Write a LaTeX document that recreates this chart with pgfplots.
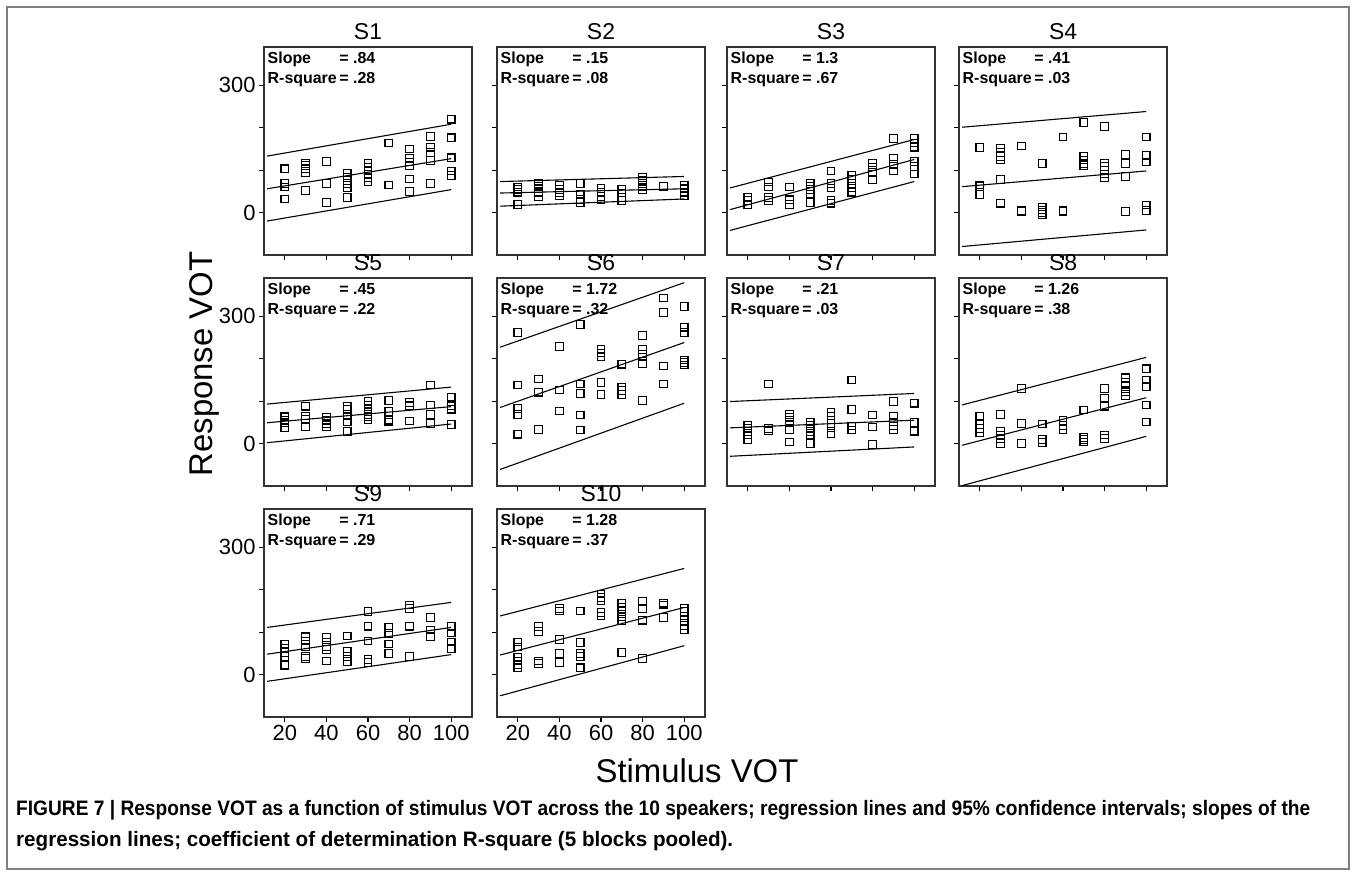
\documentclass[border=0pt]{standalone}
\usepackage{pgfplots}
\pgfplotsset{compat=1.18}
\usepackage{fontspec}
\setmainfont{Liberation Sans}
\usepackage{graphicx}

\pgfplotsset{
 pan/.style={scale only axis, width=208bp, height=208bp, anchor=north west,
  xmin=10,xmax=110,ymin=-100,ymax=390,
  xtick={20,40,60,80,100}, ytick={0,100,200,300},
  xticklabels={,,,,}, yticklabels={,,,},
  tick align=outside, xtick pos=bottom, ytick pos=left,
  major tick length=5bp,
  every tick/.style={black, line width=1.2bp},
  axis line style={black!80, line width=1.3bp},
  ticklabel style={font=\fontsize{22}{22}\selectfont},
  title style={font=\fontsize{23}{23}\selectfont, at={(0.5,1)}, anchor=south, inner sep=1.5bp},
 },
 pts/.style={only marks, mark=square, mark size=3.8bp, mark options={line width=1.1bp, draw=black, fill=none}},
 rl/.style={black, line width=1.1bp, mark=none},
}
\newcommand{\stat}[2]{\node[anchor=north west, inner sep=0pt, font=\bfseries\fontsize{16}{20}\selectfont] at ([xshift=3.5bp,yshift=-2bp]rel axis cs:0,1) {\begin{tabular}{@{}l@{}l@{}}Slope&\,= #1\\R-square&\,= #2\end{tabular}};}

\begin{document}
\begin{tikzpicture}
\path[use as bounding box] (0,0) rectangle (1356bp,-876bp);
\draw[black!50, line width=1.5bp] (7bp,-7bp) rectangle (1349bp,-869bp);

% S1
\begin{axis}[pan, at={(264bp,-47bp)}, title={S1}, yticklabels={0,,,300}]
\addplot[pts] coordinates {(20,103)(20,68)(20,60)(20,32)
(30,116)(30,111)(30,103)(30,93)(30,52)
(40,120)(40,69)(40,24)
(50,93)(50,83)(50,76)(50,69)(50,58)(50,36)
(60,115)(60,107)(60,99)(60,91)(60,83)(60,72)
(70,164)(70,65)
(80,150)(80,127)(80,119)(80,111)(80,79)(80,50)
(90,179)(90,154)(90,142)(90,123)(90,69)
(100,220)(100,176)(100,129)(100,98)(100,87)};
\addplot[rl] coordinates {(11.5,56)(100,127)};
\addplot[rl] coordinates {(11.5,133)(100,208)};
\addplot[rl] coordinates {(11.5,-20)(100,54)};
\stat{.84}{.28}
\end{axis}

% S2
\begin{axis}[pan, at={(497bp,-47bp)}, title={S2}]
\addplot[pts] coordinates {(20,60)(20,54)(20,48)(20,19)
(30,69)(30,62)(30,56)(30,48)(30,38)
(40,65)(40,54)(40,46)(40,40)
(50,68)(50,44)(50,31)(50,24)
(60,57)(60,48)(60,38)(60,31)
(70,54)(70,46)(70,36)(70,28)
(80,83)(80,76)(80,68)(80,60)(80,54)
(90,62)
(100,64)(100,56)(100,48)(100,40)};
\addplot[rl] coordinates {(11.5,46)(100,56)};
\addplot[rl] coordinates {(11.5,73)(100,85)};
\addplot[rl] coordinates {(11.5,15)(100,32)};
\stat{.15}{.08}
\end{axis}

% S3
\begin{axis}[pan, at={(727bp,-47bp)}, title={S3}]
\addplot[pts] coordinates {(20,36)(20,28)(20,19)
(30,72)(30,60)(30,36)(30,28)
(40,60)(40,30)(40,19)
(50,68)(50,61)(50,54)(50,44)(50,24)
(60,98)(60,68)(60,58)(60,28)(60,22)
(70,87)(70,79)(70,68)(70,58)(70,48)
(80,117)(80,107)(80,95)(80,78)
(90,175)(90,127)(90,113)(90,98)
(100,174)(100,164)(100,154)(100,120)(100,109)(100,91)};
\addplot[rl] coordinates {(11.5,7)(100,125)};
\addplot[rl] coordinates {(11.5,58)(100,172)};
\addplot[rl] coordinates {(11.5,-42)(100,73)};
\stat{1.3}{.67}
\end{axis}

% S4
\begin{axis}[pan, at={(959bp,-47bp)}, title={S4}]
\addplot[pts] coordinates {(20,153)(20,65)(20,61)(20,42)
(30,152)(30,142)(30,132)(30,124)(30,78)(30,22)
(40,157)(40,5)(40,2)
(50,115)(50,13)(50,6)(50,0)(50,-5)
(60,178)(60,5)(60,2)
(70,212)(70,132)(70,124)(70,116)(70,111)
(80,203)(80,117)(80,109)(80,99)(80,91)(80,83)
(90,137)(90,116)(90,85)(90,2)
(100,178)(100,134)(100,119)(100,18)(100,5)};
\addplot[rl] coordinates {(11.5,61)(100,98)};
\addplot[rl] coordinates {(11.5,201)(100,238)};
\addplot[rl] coordinates {(11.5,-80)(100,-41)};
\stat{.41}{.03}
\end{axis}

% S5
\begin{axis}[pan, at={(264bp,-278bp)}, title={S5}, yticklabels={0,,,300}]
\addplot[pts] coordinates {(20,63)(20,55)(20,49)(20,38)
(30,88)(30,65)(30,58)(30,39)
(40,62)(40,54)(40,47)(40,39)
(50,87)(50,81)(50,65)(50,51)(50,28)
(60,99)(60,91)(60,83)(60,75)(60,69)(60,63)(60,57)
(70,101)(70,75)(70,55)(70,51)
(80,97)(80,89)(80,53)
(90,138)(90,91)(90,69)(90,47)
(100,110)(100,89)(100,81)(100,45)};
\addplot[rl] coordinates {(11.5,49)(100,87)};
\addplot[rl] coordinates {(11.5,93)(100,133)};
\addplot[rl] coordinates {(11.5,2)(100,46)};
\stat{.45}{.22}
\end{axis}

% S6
\begin{axis}[pan, at={(497bp,-278bp)}, title={S6}]
\addplot[pts] coordinates {(20,262)(20,138)(20,83)(20,69)(20,22)
(30,152)(30,121)(30,33)
(40,229)(40,126)(40,77)
(50,280)(50,140)(50,118)(50,67)(50,32)
(60,221)(60,213)(60,205)(60,144)(60,116)
(70,187)(70,133)(70,125)(70,116)
(80,254)(80,222)(80,211)(80,204)(80,189)(80,101)
(90,343)(90,309)(90,183)(90,140)
(100,323)(100,274)(100,262)(100,197)(100,191)(100,185)};
\addplot[rl] coordinates {(11.5,85)(100,238)};
\addplot[rl] coordinates {(11.5,227)(100,379)};
\addplot[rl] coordinates {(11.5,-61)(100,95)};
\stat{1.72}{.32}
\end{axis}

% S7
\begin{axis}[pan, at={(727bp,-278bp)}, title={S7}]
\addplot[pts] coordinates {(20,43)(20,36)(20,28)(20,20)(20,10)
(30,140)(30,36)(30,30)
(40,69)(40,62)(40,54)(40,32)(40,4)
(50,51)(50,43)(50,36)(50,28)(50,20)(50,0)
(60,73)(60,65)(60,47)(60,38)(60,24)
(70,150)(70,80)(70,41)(70,32)
(80,67)(80,39)(80,-2)
(90,99)(90,65)(90,51)(90,41)(90,33)
(100,95)(100,50)(100,29)};
\addplot[rl] coordinates {(11.5,37)(100,55)};
\addplot[rl] coordinates {(11.5,99)(100,118)};
\addplot[rl] coordinates {(11.5,-30)(100,-8)};
\stat{.21}{.03}
\end{axis}

% S8
\begin{axis}[pan, at={(959bp,-278bp)}, title={S8}]
\addplot[pts] coordinates {(20,65)(20,45)(20,36)(20,26)
(30,69)(30,28)(30,20)(30,12)(30,0)
(40,130)(40,47)(40,0)
(50,46)(50,9)(50,2)
(60,54)(60,43)(60,33)
(70,79)(70,14)(70,9)(70,4)
(80,130)(80,107)(80,88)(80,20)(80,12)
(90,155)(90,144)(90,134)(90,122)(90,112)
(100,176)(100,150)(100,134)(100,91)(100,51)};
\addplot[rl] coordinates {(11.5,-4)(100,108)};
\addplot[rl] coordinates {(11.5,91)(100,203)};
\addplot[rl] coordinates {(11.5,-99)(100,17)};
\stat{1.26}{.38}
\end{axis}

% S9
\begin{axis}[pan, at={(264bp,-509bp)}, title={S9}, yticklabels={0,,,300}, xticklabels={20,40,60,80,100}]
\addplot[pts] coordinates {(20,72)(20,61)(20,52)(20,42)(20,22)
(30,89)(30,79)(30,65)(30,42)(30,38)
(40,87)(40,77)(40,65)(40,59)(40,32)
(50,91)(50,54)(50,42)(50,31)
(60,148)(60,114)(60,79)(60,35)(60,28)
(70,111)(70,97)(70,72)(70,50)
(80,164)(80,156)(80,114)(80,42)
(90,135)(90,105)(90,89)
(100,114)(100,98)(100,77)(100,61)};
\addplot[rl] coordinates {(11.5,48)(100,111)};
\addplot[rl] coordinates {(11.5,111)(100,170)};
\addplot[rl] coordinates {(11.5,-16)(100,47)};
\stat{.71}{.29}
\end{axis}

% S10
\begin{axis}[pan, at={(497bp,-509bp)}, title={S10}, xticklabels={20,40,60,80,100}]
\addplot[pts] coordinates {(20,77)(20,65)(20,40)(20,32)(20,24)(20,17)
(30,113)(30,101)(30,32)(30,26)
(40,156)(40,150)(40,83)(40,50)(40,28)
(50,150)(50,75)(50,50)(50,42)(50,16)
(60,190)(60,182)(60,174)(60,146)(60,138)
(70,168)(70,159)(70,148)(70,136)(70,126)(70,52)
(80,172)(80,156)(80,128)(80,38)
(90,168)(90,164)(90,134)
(100,156)(100,148)(100,138)(100,127)(100,116)(100,106)};
\addplot[rl] coordinates {(11.5,46)(100,158)};
\addplot[rl] coordinates {(11.5,138)(100,250)};
\addplot[rl] coordinates {(11.5,-50)(100,68)};
\stat{1.28}{.37}
\end{axis}

\node[rotate=90, anchor=base, inner sep=0pt, font=\fontsize{33}{33}\selectfont] at (212bp,-364bp) {Response VOT};
\node[anchor=base, inner sep=0pt, font=\fontsize{33}{33}\selectfont] at (697bp,-782bp) {Stimulus VOT};

\node[anchor=base west, inner sep=0pt, font=\bfseries\fontsize{21}{21}\selectfont] at (16bp,-815bp) {\resizebox{1294bp}{\height}{FIGURE 7 | Response VOT as a function of stimulus VOT across the 10 speakers; regression lines and 95\% confidence intervals; slopes of the}};
\node[anchor=base west, inner sep=0pt, font=\bfseries\fontsize{21}{21}\selectfont] at (16bp,-846bp) {\resizebox{717bp}{\height}{regression lines; coefficient of determination R-square (5 blocks pooled).}};
\end{tikzpicture}
\end{document}
